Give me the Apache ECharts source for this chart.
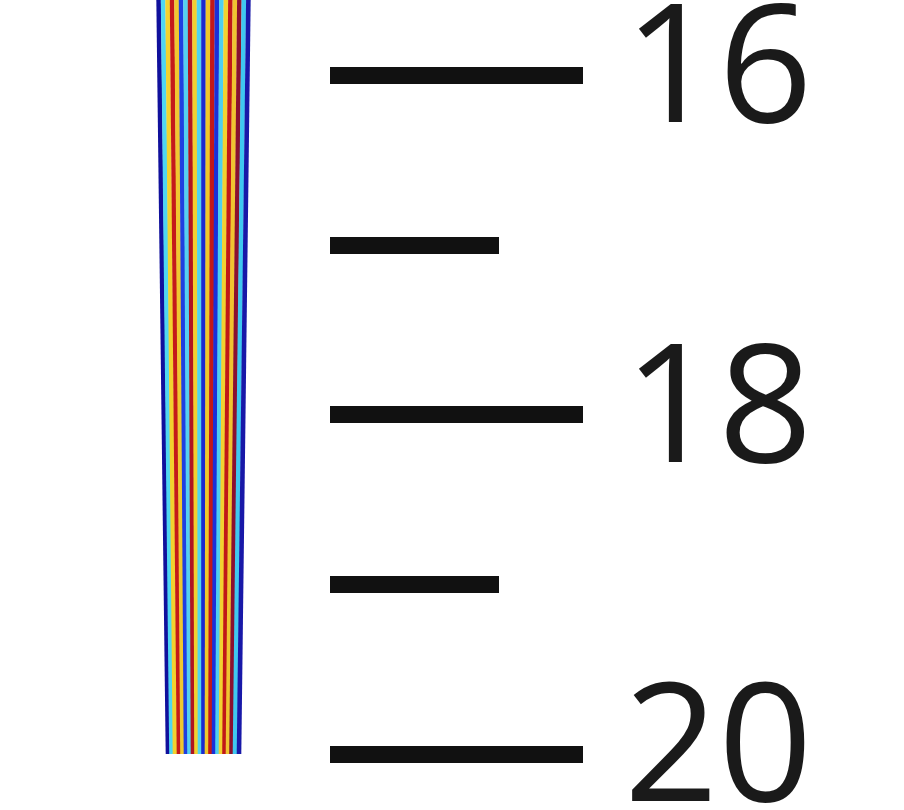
<!DOCTYPE html>
<html>
<head>
<meta charset="utf-8">
<script src="https://cdn.jsdelivr.net/npm/echarts@6/dist/echarts.min.js"></script>
<style>html,body{margin:0;padding:0;background:#fff;}#c{width:904px;height:810px;}</style>
</head>
<body>
<div id="c"></div>
<script>
// Axis range and ticks
const yMin = 14, yMax = 22, yInterval = 2;
const tickLabels = [16, 18, 20];
// Stripes: position (x, hidden axis) at top value and at bottom value, plus colour
const stripeTopValue = 15.5;
const stripeBottomValue = 20;
const stripeTopX    = [158.5, 163, 167.5, 172, 176.5, 181, 185.5, 190, 194.5, 199, 203.5, 208, 212.5, 217, 221.5, 226, 230.5, 235, 239.5, 244, 248.5];
const stripeBottomX = [168, 171.5, 175, 179, 182.5, 186, 189.5, 193, 196.5, 200, 203.5, 207, 210.5, 214, 217.5, 221, 224.5, 228, 231.5, 235, 239];
const stripeColor   = ['#10109c', '#4fd6f2', '#f2d22e', '#c41a1a', '#f0c830', '#1f3fe0', '#55d0f0', '#b01420', '#f2d030', '#50d4f0', '#1a2ad0', '#f0c82a', '#c21818', '#1a30d8', '#4ecff0', '#f2d230', '#c01818', '#f0c430', '#8a1030', '#3fc8f0', '#1818a8'];

const series = stripeTopX.map((tx, i) => ({
  type: 'line',
  data: [[tx, stripeTopValue], [stripeBottomX[i], stripeBottomValue]],
  symbol: 'none',
  silent: true,
  lineStyle: { color: stripeColor[i], width: 4.6 }
}));

const chart = echarts.init(document.getElementById('c'), null, { renderer: 'canvas' });
chart.setOption({
  animation: false,
  backgroundColor: '#ffffff',
  grid: { left: 0, right: 574, top: -264.5, bottom: -283.5, containLabel: false, outerBoundsMode: 'none' },
  xAxis: { type: 'value', min: 0, max: 330, show: false },
  yAxis: {
    type: 'value', position: 'right', inverse: true,
    min: yMin, max: yMax, interval: yInterval,
    axisLine: { show: false, onZero: false },
    splitLine: { show: false },
    axisTick: { show: true, inside: false, length: 253, lineStyle: { color: '#111', width: 17 } },
    minorTick: { show: true, splitNumber: 2, length: 169, lineStyle: { color: '#111', width: 17 } },
    axisLabel: {
      margin: 294,
      fontSize: 165,
      fontFamily: 'Open Sans',
      color: '#1a1a1a',
      formatter: v => tickLabels.indexOf(v) >= 0 ? String(v) : ''
    }
  },
  series: series
});
</script>
</body>
</html>
